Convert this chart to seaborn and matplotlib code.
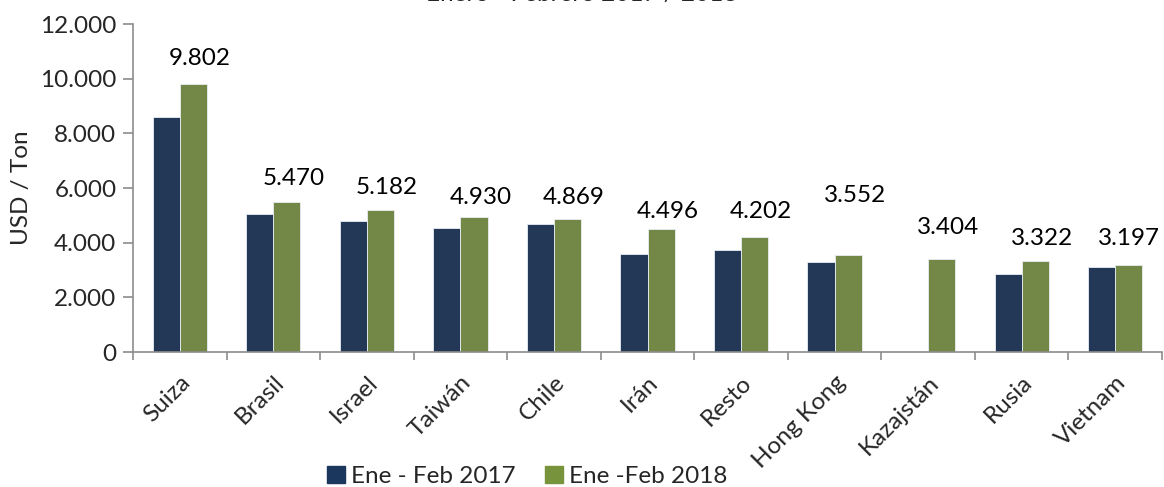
import pandas as pd
import numpy as np
import matplotlib
matplotlib.use("Agg")
import matplotlib.pyplot as plt
import seaborn as sns
from matplotlib.ticker import FuncFormatter, FixedLocator

# data
paises = ["Suiza", "Brasil", "Israel", "Taiwán", "Chile", "Irán", "Resto",
          "Hong Kong", "Kazajstán", "Rusia", "Vietnam"]
ene_feb_2017 = [8590, 5040, 4805, 4525, 4685, 3600, 3735, 3295, np.nan, 2855, 3100]
ene_feb_2018 = [9802, 5470, 5182, 4930, 4869, 4496, 4202, 3552, 3404, 3322, 3197]
series = ["Ene - Feb 2017", "Ene -Feb 2018"]

sns.set_theme(style="white")
plt.rcParams["font.family"] = ["Lato", "DejaVu Sans"]
FS = 17.5

df = pd.DataFrame({
    "pais": paises * 2,
    "periodo": [series[0]] * len(paises) + [series[1]] * len(paises),
    "valor": ene_feb_2017 + ene_feb_2018,
})

colores = {series[0]: "#1B375E", series[1]: "#77933C"}

fig = plt.figure(figsize=(11.64, 4.87), dpi=100)
ax = fig.add_axes([0.1143, 0.2772, 0.884, 0.6735])

sns.barplot(data=df, x="pais", y="valor", hue="periodo", palette=colores,
            width=0.58, gap=0, edgecolor="#E8EEF4", linewidth=0.6,
            legend=False, ax=ax)

# labels only on 2018 series (label lift in points, a few moved by hand in the original)
lift = [11, 10, 9, 7, 8, 5, 11, 35, 15, 9, 11]
for i, v in enumerate(ene_feb_2018):
    dx = 0.07 if i < len(paises) - 1 else 0.0
    ax.annotate(f"{v:,}".replace(",", "."), xy=(i + 0.145 + dx, v),
                xytext=(0, lift[i]), textcoords="offset points",
                ha="center", va="bottom", fontsize=FS, color="black")

ax.set_xlim(-0.5, len(paises) - 0.5)
ax.set_ylim(0, 12000)
ax.set_yticks(range(0, 12001, 2000))
ax.yaxis.set_major_formatter(FuncFormatter(lambda v, p: f"{int(v):,}".replace(",", ".")))
ax.set_ylabel("USD / Ton", fontsize=FS, labelpad=6)
ax.set_xlabel("")

ax.set_xticks(range(len(paises)))
ax.set_xticklabels(paises, rotation=45, ha="right", rotation_mode="anchor", fontsize=FS)
ax.xaxis.set_minor_locator(FixedLocator(np.arange(-0.5, len(paises), 1)))
ax.tick_params(axis="x", which="major", length=0, pad=14)
ax.tick_params(axis="x", which="minor", length=6, width=1.2, color="#8C8C8C", direction="out", bottom=True)
ax.tick_params(axis="y", length=7, width=1.2, color="#8C8C8C", direction="out", left=True, labelsize=FS, pad=5)

for s in ["top", "right"]:
    ax.spines[s].set_visible(False)
for s in ["left", "bottom"]:
    ax.spines[s].set_color("#8C8C8C")
    ax.spines[s].set_linewidth(1.2)

handles = [plt.Rectangle((0, 0), 1, 1, color=colores[s]) for s in series]
fig.legend(handles, series, loc="center", bbox_to_anchor=(0.453, 0.022), ncol=2,
           frameon=False, fontsize=FS, handlelength=0.75, handleheight=0.75,
           handletextpad=0.25, columnspacing=1.2)

# title is cut off at the top edge in the original
fig.text(0.5, 1 - 1 / 487, "Enero - Febrero 2017 / 2018", ha="center", va="baseline", fontsize=FS)

fig.savefig("out.png", dpi=100)
